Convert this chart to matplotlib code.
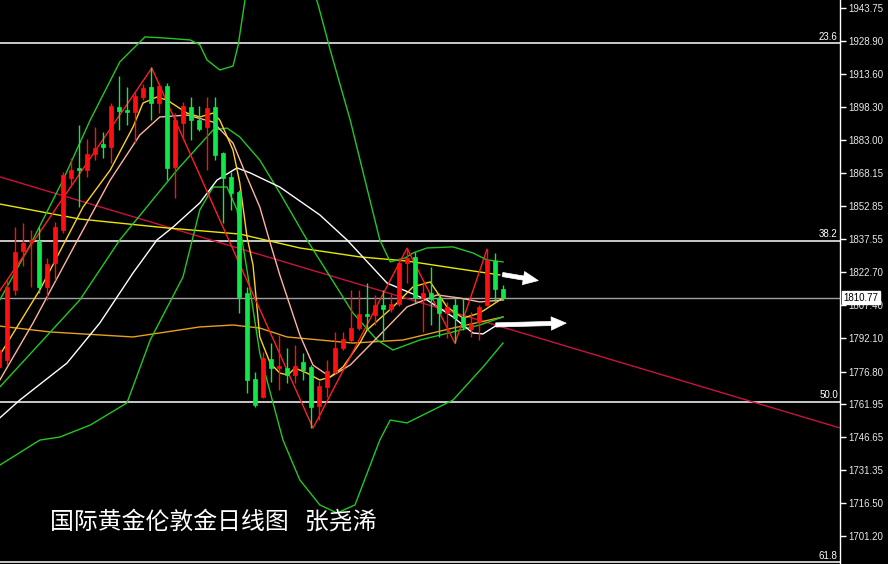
import matplotlib
matplotlib.use("Agg")
import matplotlib.pyplot as plt
import matplotlib.transforms as mtransforms
import numpy as np

# ---------------- data ----------------
opens  = [1778.8,1782.0,1814.2,1832.1,1836.2,1836.7,1815.6,1826.6,1841.7,1865.6,
          1870.2,1869.3,1876.7,1881.2,1879.9,1898.2,1896.9,1895.9,1902.8,1907.4,
          1900.1,1907.9,1870.7,1890.9,1898.2,1892.3,1889.1,1898.2,1877.1,1866.1,
          1859.2,1812.8,1773.3,1765.0,1782.5,1778.3,1778.3,1775.1,1781.1,1778.8,
          1760.9,1769.6,1776.5,1787.5,1791.2,1796.7,1803.1,1802.7,1807.3,1805.4,
          1807.7,1826.6,1829.4,1810.5,1812.8,1810.5,1803.6,1807.3,1801.8,1796.3,
          1799.5,1807.3,1827.5,1814.9]
highs  = [1788.9,1818.8,1843.1,1844.9,1841.7,1843.1,1828.9,1845.4,1868.4,1874.8,
          1890.0,1883.5,1889.1,1886.8,1900.1,1912.5,1907.4,1905.1,1908.8,1916.6,
          1909.3,1909.3,1895.5,1900.5,1902.8,1898.7,1902.8,1902.8,1877.6,1868.4,
          1860.1,1815.6,1776.5,1785.7,1789.8,1793.5,1787.5,1788.9,1785.2,1779.7,
          1772.4,1782.0,1794.9,1794.9,1814.2,1814.2,1817.4,1811.9,1814.2,1812.3,
          1828.9,1833.5,1831.6,1817.4,1824.7,1812.8,1808.7,1810.5,1810.5,1804.1,
          1807.3,1833.0,1831.2,1816.5]
lows   = [1776.5,1779.7,1811.9,1825.2,1815.6,1812.8,1809.6,1818.8,1840.4,1862.4,
          1852.3,1866.1,1873.9,1874.8,1872.5,1887.7,1890.0,1881.7,1901.5,1892.3,
          1895.5,1864.7,1856.4,1883.1,1883.1,1887.2,1869.3,1873.9,1844.9,1850.9,
          1803.6,1766.9,1760.4,1764.6,1771.9,1768.2,1771.4,1771.4,1772.8,1750.8,
          1754.5,1765.0,1775.6,1786.6,1790.3,1795.8,1795.8,1798.1,1791.2,1804.1,
          1806.8,1817.4,1808.2,1794.9,1798.1,1792.6,1792.1,1789.8,1795.8,1792.6,
          1791.2,1806.8,1808.7,1809.6]
closes = [1786.6,1815.6,1831.6,1835.8,1837.1,1815.6,1826.1,1843.1,1867.0,1869.3,
          1869.3,1876.7,1879.4,1879.9,1898.7,1896.4,1895.9,1903.3,1907.0,1900.1,
          1907.9,1870.2,1892.3,1898.7,1892.3,1888.1,1897.8,1876.2,1865.6,1858.7,
          1811.0,1772.8,1761.3,1782.9,1778.3,1779.3,1775.1,1779.3,1777.4,1760.4,
          1770.1,1777.0,1787.5,1791.7,1796.7,1803.1,1802.2,1807.3,1805.4,1807.7,
          1826.6,1828.9,1810.5,1812.8,1810.0,1803.6,1806.4,1801.3,1797.2,1798.6,
          1806.4,1828.0,1814.9,1810.77]

# indicator lines: (bar index, price)
trend_x = [0.0, 105.0]
trend_y = [1866.4, 1751.0]

ma_long_yellow_x = [0.1, 10.1, 21.0, 30.1, 37.6, 45.1, 51.0, 56.75, 62.6]
ma_long_yellow_y = [1853.8, 1846.9, 1842.8, 1840.0, 1833.6, 1829.5, 1827.6, 1824.4, 1821.2]

ma_orange_x = [0.1, 6.4, 16.75, 25.1, 29.25, 32.6, 36.0, 44.25, 50.5, 56.75, 63.0]
ma_orange_y = [1797.7, 1795.0, 1792.7, 1797.3, 1798.2, 1796.8, 1792.7, 1789.9, 1791.3, 1796.8, 1801.9]

ma_white_x = [0.1, 2.6, 8.5, 12.6, 16.75, 19.75, 21.75, 25.1, 27.25, 29.75, 31.4, 35.1,
              40.1, 43.5, 48.5, 53.5, 56.75, 59.25, 60.5, 62.25, 63.0]
ma_white_y = [1755.5, 1763.7, 1780.7, 1799.1, 1822.1, 1837.3, 1843.2, 1854.3, 1864.8, 1870.4,
              1868.1, 1861.6, 1848.8, 1837.3, 1817.5, 1809.7, 1801.9, 1794.5, 1794.1, 1798.2, 1798.7]

ma_pink_x = [0.1, 4.25, 9.75, 13.9, 17.6, 20.1, 23.5, 26.75, 29.25, 31.0, 32.6, 33.9, 35.1,
             37.6, 39.25, 41.4, 43.9, 47.6, 51.0, 54.75, 57.6, 60.1, 63.0]
ma_pink_y = [1772.9, 1799.1, 1836.8, 1864.8, 1885.5, 1893.8, 1894.7, 1891.5, 1881.8, 1866.2,
             1852.4, 1835.9, 1821.2, 1793.6, 1779.8, 1774.3, 1779.8, 1793.6, 1806.5, 1812.0,
             1810.6, 1808.8, 1809.7]

ma_short_x = [0.1, 5.1, 10.5, 13.9, 16.75, 18.0, 19.75, 21.0, 23.5, 25.1, 26.75, 27.6, 29.25,
              30.1, 31.0, 31.75, 32.6, 33.9, 35.1, 36.1, 37.0, 38.5, 40.1, 41.4, 43.0, 45.1,
              46.0, 49.25, 51.75, 53.9, 56.0, 58.0, 60.1, 63.0]
ma_short_y = [1784.4, 1814.3, 1852.4, 1869.4, 1889.2, 1900.2, 1903.0, 1901.6, 1895.6, 1893.8,
              1895.6, 1892.4, 1878.6, 1863.5, 1838.7, 1825.8, 1792.7, 1780.7, 1776.1, 1775.2,
              1778.4, 1776.1, 1772.9, 1774.3, 1778.9, 1789.9, 1795.9, 1806.5, 1815.7, 1818.0,
              1806.5, 1801.4, 1803.7, 1810.6]

bb_up_x = [0.1, 3.9, 8.0, 11.4, 15.1, 18.25, 20.75, 23.9, 25.1, 26.0, 27.6, 29.25, 29.9, 30.75,
           31.4, 38.9, 39.9, 41.4, 43.9, 45.75, 47.6, 48.9, 50.75, 51.75, 53.5, 56.75, 59.25, 61.0, 63.0]
bb_up_y = [1809.7, 1835.0, 1864.8, 1892.4, 1919.1, 1930.6, 1930.1, 1929.2, 1927.0, 1920.0,
           1915.4, 1917.2, 1926.9, 1947.6, 1956.8, 1956.8, 1945.3, 1924.6, 1892.4, 1864.8,
           1837.3, 1827.2, 1829.0, 1831.3, 1833.6, 1834.1, 1831.3, 1828.1, 1827.2]

bb_mid_x = [0.1, 10.1, 15.1, 22.25, 26.75, 28.5, 30.1, 32.6, 35.1, 38.5, 44.25, 47.25, 49.25,
            52.6, 56.75, 60.1, 63.0]
bb_mid_y = [1769.7, 1809.7, 1837.3, 1869.4, 1887.8, 1888.7, 1884.6, 1874.0, 1858.9, 1837.3,
            1803.7, 1791.3, 1786.7, 1791.3, 1795.0, 1798.2, 1801.9]

bb_low_x = [0.1, 5.1, 7.6, 11.4, 16.0, 18.9, 23.0, 25.1, 26.75, 28.5, 29.75, 31.0, 32.6, 34.25,
            35.5, 37.6, 40.1, 42.25, 44.5, 47.6, 48.9, 51.0, 56.75, 60.5, 63.0]
bb_low_y = [1733.8, 1745.3, 1746.7, 1752.2, 1762.4, 1791.3, 1820.3, 1851.1, 1861.6, 1861.6,
            1851.1, 1823.5, 1785.3, 1762.4, 1745.3, 1727.0, 1715.5, 1711.8, 1715.5, 1745.3,
            1754.5, 1753.2, 1763.7, 1778.9, 1789.9]

zz_x = [-1.0, 19.1, 39.25, 51.0, 57.0, 61.0]
zz_y = [1808.0, 1916.3, 1750.8, 1833.5, 1789.8, 1833.0]

fib_levels = ["23.6", "38.2", "50.0", "61.8"]
fib_prices = [1927.7, 1836.8, 1762.9, 1689.2]

ytick_vals = [1943.75, 1928.90, 1913.60, 1898.30, 1883.00, 1868.15, 1852.85, 1837.55,
              1822.70, 1807.40, 1792.10, 1776.80, 1761.95, 1746.65, 1731.35, 1716.50, 1701.20]
last_price = 1810.77

arrow1_x = [62.6, 67.75]
arrow1_y = [1821.6, 1818.4]
arrow2_x = [61.75, 71.25]
arrow2_y = [1798.2, 1799.1]

title_text = "国际黄金伦敦金日线图   张尧浠"

# ---------------- figure ----------------
W, H = 888, 564
fig = plt.figure(figsize=(W/100, H/100), dpi=100, facecolor="black")
ax = fig.add_axes([0, 0, 840/W, 1])
ax.set_facecolor("black")
ax.set_xlim(0.125, 105.125)
ax.set_ylim(1688.35, 1947.57)

UP = "#ff1010"
DN = "#10e84a"

# fib lines
for lab, p in zip(fib_levels, fib_prices):
    ax.axhline(p, color="white", lw=1.1, zorder=1)
    ax.text(104.85, p + 0.7, lab, color="white", fontsize=7, ha="right", va="bottom",
            family="Liberation Sans", zorder=6)

ax.axhline(last_price, color="#a0a0a0", lw=1.0, zorder=1)

# overlay lines
ax.plot(trend_x, trend_y, color="#c8143c", lw=1.0, zorder=2)
ax.plot(ma_long_yellow_x, ma_long_yellow_y, color="#e8e800", lw=1.0, zorder=2)
ax.plot(ma_orange_x, ma_orange_y, color="#e8a020", lw=1.0, zorder=2)
ax.plot(bb_up_x, bb_up_y, color="#22c822", lw=1.0, zorder=2)
ax.plot(bb_mid_x, bb_mid_y, color="#22c822", lw=1.0, zorder=2)
ax.plot(bb_low_x, bb_low_y, color="#22c822", lw=1.0, zorder=2)
ax.plot(ma_white_x, ma_white_y, color="white", lw=1.0, zorder=2)
ax.plot(ma_pink_x, ma_pink_y, color="#ffb4a0", lw=1.0, zorder=2)
ax.plot(ma_short_x, ma_short_y, color="#ffd020", lw=1.0, zorder=2)
ax.plot(zz_x, zz_y, color="#ff2020", lw=1.0, zorder=2)

# candles
idx = np.arange(len(opens))
bw = 0.62
for i, o, h, l, c in zip(idx, opens, highs, lows, closes):
    col = UP if c >= o else DN
    ax.vlines(i, l, h, color=col, lw=1.0, zorder=3)
    lo, hi = min(o, c), max(o, c)
    hgt = max(hi - lo, 0.5)
    ax.add_patch(plt.Rectangle((i - bw/2, lo), bw, hgt, facecolor=col, edgecolor=col,
                               lw=0.5, zorder=4))

# arrows
for xs, ys in [(arrow1_x, arrow1_y), (arrow2_x, arrow2_y)]:
    ax.annotate("", xy=(xs[1], ys[1]), xytext=(xs[0], ys[0]),
                arrowprops=dict(arrowstyle="simple,head_length=0.9,head_width=0.8,tail_width=0.25",
                                color="white", lw=0.5, mutation_scale=12), zorder=7)

# axes styling
for s in ["top", "left", "bottom"]:
    ax.spines[s].set_visible(False)
ax.spines["right"].set_color("white")
ax.spines["right"].set_linewidth(1.0)
ax.set_xticks([])
ax.yaxis.tick_right()
ax.set_yticks(ytick_vals)
ax.set_yticklabels([f"{v:.2f}" for v in ytick_vals])
ax.tick_params(axis="y", colors="white", length=4, width=1, pad=2, labelsize=7)
for t in ax.get_yticklabels():
    t.set_family("Liberation Sans")
    t.set_color("#e8e8e8")

# last price box
trans = mtransforms.blended_transform_factory(ax.transAxes, ax.transData)
ax.text(1.0045, last_price, f"{last_price:.2f}", transform=trans, color="black", fontsize=7,
        family="Liberation Sans", ha="left", va="center", zorder=10, clip_on=False,
        bbox=dict(boxstyle="square,pad=0.15", facecolor="white", edgecolor="white"))

fig.text(50/W, 1 - 522/H, title_text, color="white", fontsize=17.2,
         family=["Noto Sans CJK SC", "DejaVu Sans"], ha="left", va="center")

fig.savefig("out.png", dpi=100, facecolor="black")
